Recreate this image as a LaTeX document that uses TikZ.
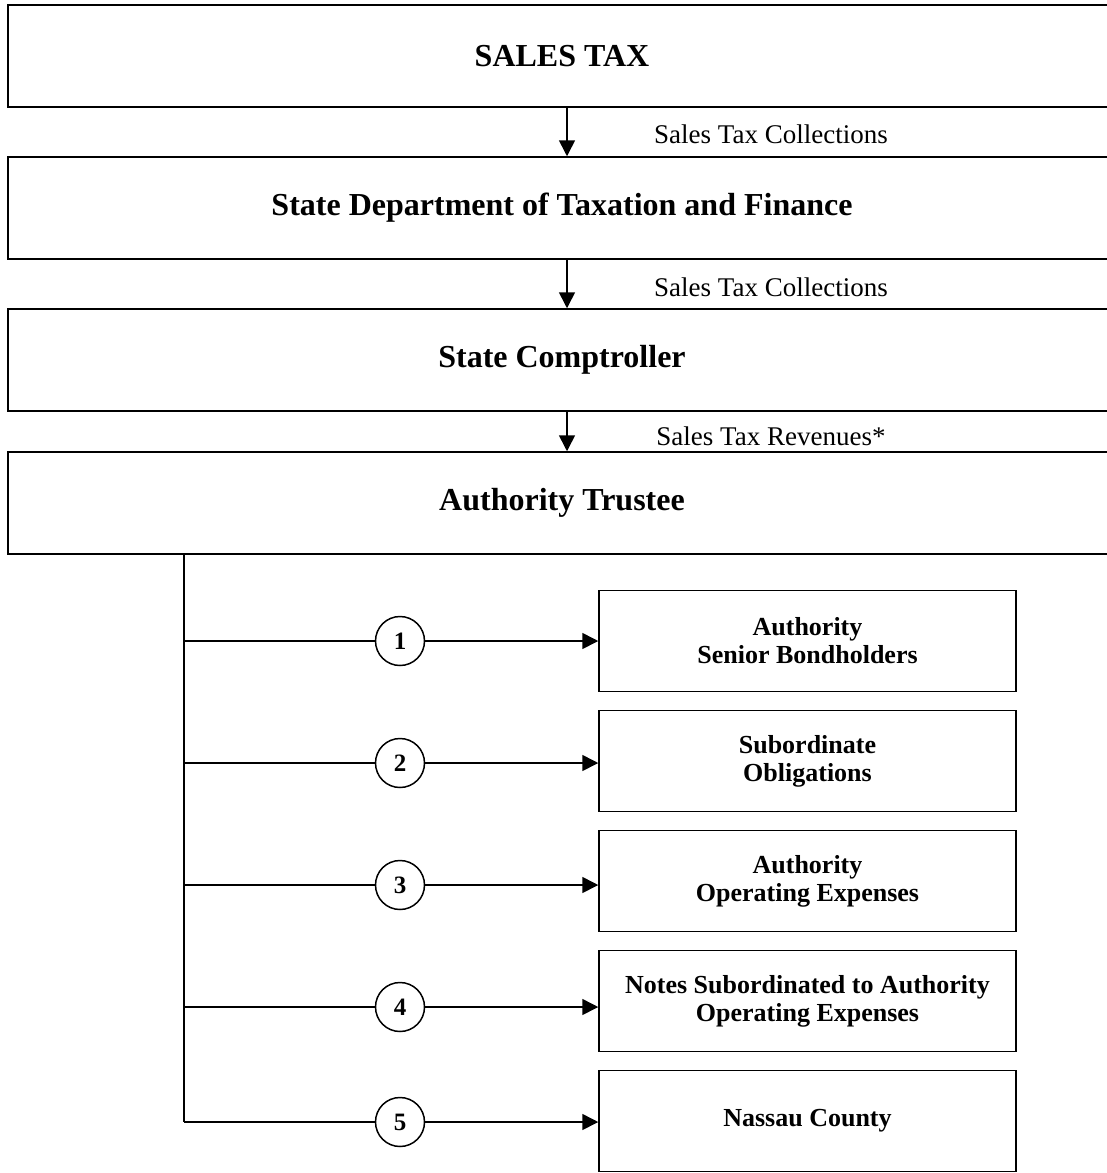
\documentclass[tikz,border=0pt]{standalone}
\usepackage{fontspec}
\setmainfont{Liberation Serif}
\usetikzlibrary{arrows.meta}
\begin{document}
\begin{tikzpicture}[x=1pt,y=-1pt,
  bigbox/.style={draw,line width=1.5pt,minimum width=1108pt,minimum height=102pt,inner sep=0pt,font=\fontsize{32}{38}\selectfont\bfseries},
  smallbox/.style={draw,line width=1.5pt,minimum width=417pt,minimum height=101pt,inner sep=0pt,align=center,font=\fontsize{26}{28}\selectfont\bfseries},
  flowlabel/.style={font=\fontsize{27}{32}\selectfont},
  numcirc/.style={draw,circle,line width=1.5pt,minimum size=49pt,inner sep=0pt,fill=white,font=\fontsize{25}{30}\selectfont\bfseries},
  arr/.style={line width=1.6pt,-{Triangle[length=16pt,width=16pt]}},
  ln/.style={line width=1.6pt}]
\useasboundingbox (0,0) rectangle (1107,1173);
\node[bigbox] (b1) at (562,56) {SALES TAX};
\node[bigbox] (b2) at (562,208) {State Department of Taxation and Finance};
\node[bigbox] (b3) at (562,360) {State Comptroller};
\node[bigbox] (b4) at (562,503) {Authority Trustee};
\draw[arr] (b1.south -| 567,0) -- (b2.north -| 567,0);
\draw[arr] (b2.south -| 567,0) -- (b3.north -| 567,0);
\draw[arr] (b3.south -| 567,0) -- (b4.north -| 567,0);
\node[flowlabel] (l1) at (771,134) {Sales Tax Collections};
\node[flowlabel] (l2) at (771,287) {Sales Tax Collections};
\node[flowlabel] (l3) at (771,436) {Sales Tax Revenues*};
\node[smallbox] (r1) at (807.5,641) {Authority\\Senior Bondholders};
\node[smallbox] (r2) at (807.5,761) {Subordinate\\Obligations};
\node[smallbox] (r3) at (807.5,881) {Authority\\Operating Expenses};
\node[smallbox] (r4) at (807.5,1001) {Notes Subordinated to Authority\\Operating Expenses};
\node[smallbox] (r5) at (807.5,1121) {Nassau County};
\coordinate (top) at (b4.south -| 184,0);
\coordinate (j1) at (184,641);
\coordinate (j2) at (184,763);
\coordinate (j3) at (184,885);
\coordinate (j4) at (184,1007);
\coordinate (j5) at (184,1122);
\draw[ln] (top) -- (j5);
\foreach \i/\y in {1/641,2/763,3/885,4/1007,5/1122}{
  \node[numcirc] (c\i) at (400,\y) {\i};
  \draw[ln] (j\i) -- (c\i.west);
  \draw[arr] (c\i.east) -- (r\i.west |- c\i);
}
\end{tikzpicture}
\end{document}
